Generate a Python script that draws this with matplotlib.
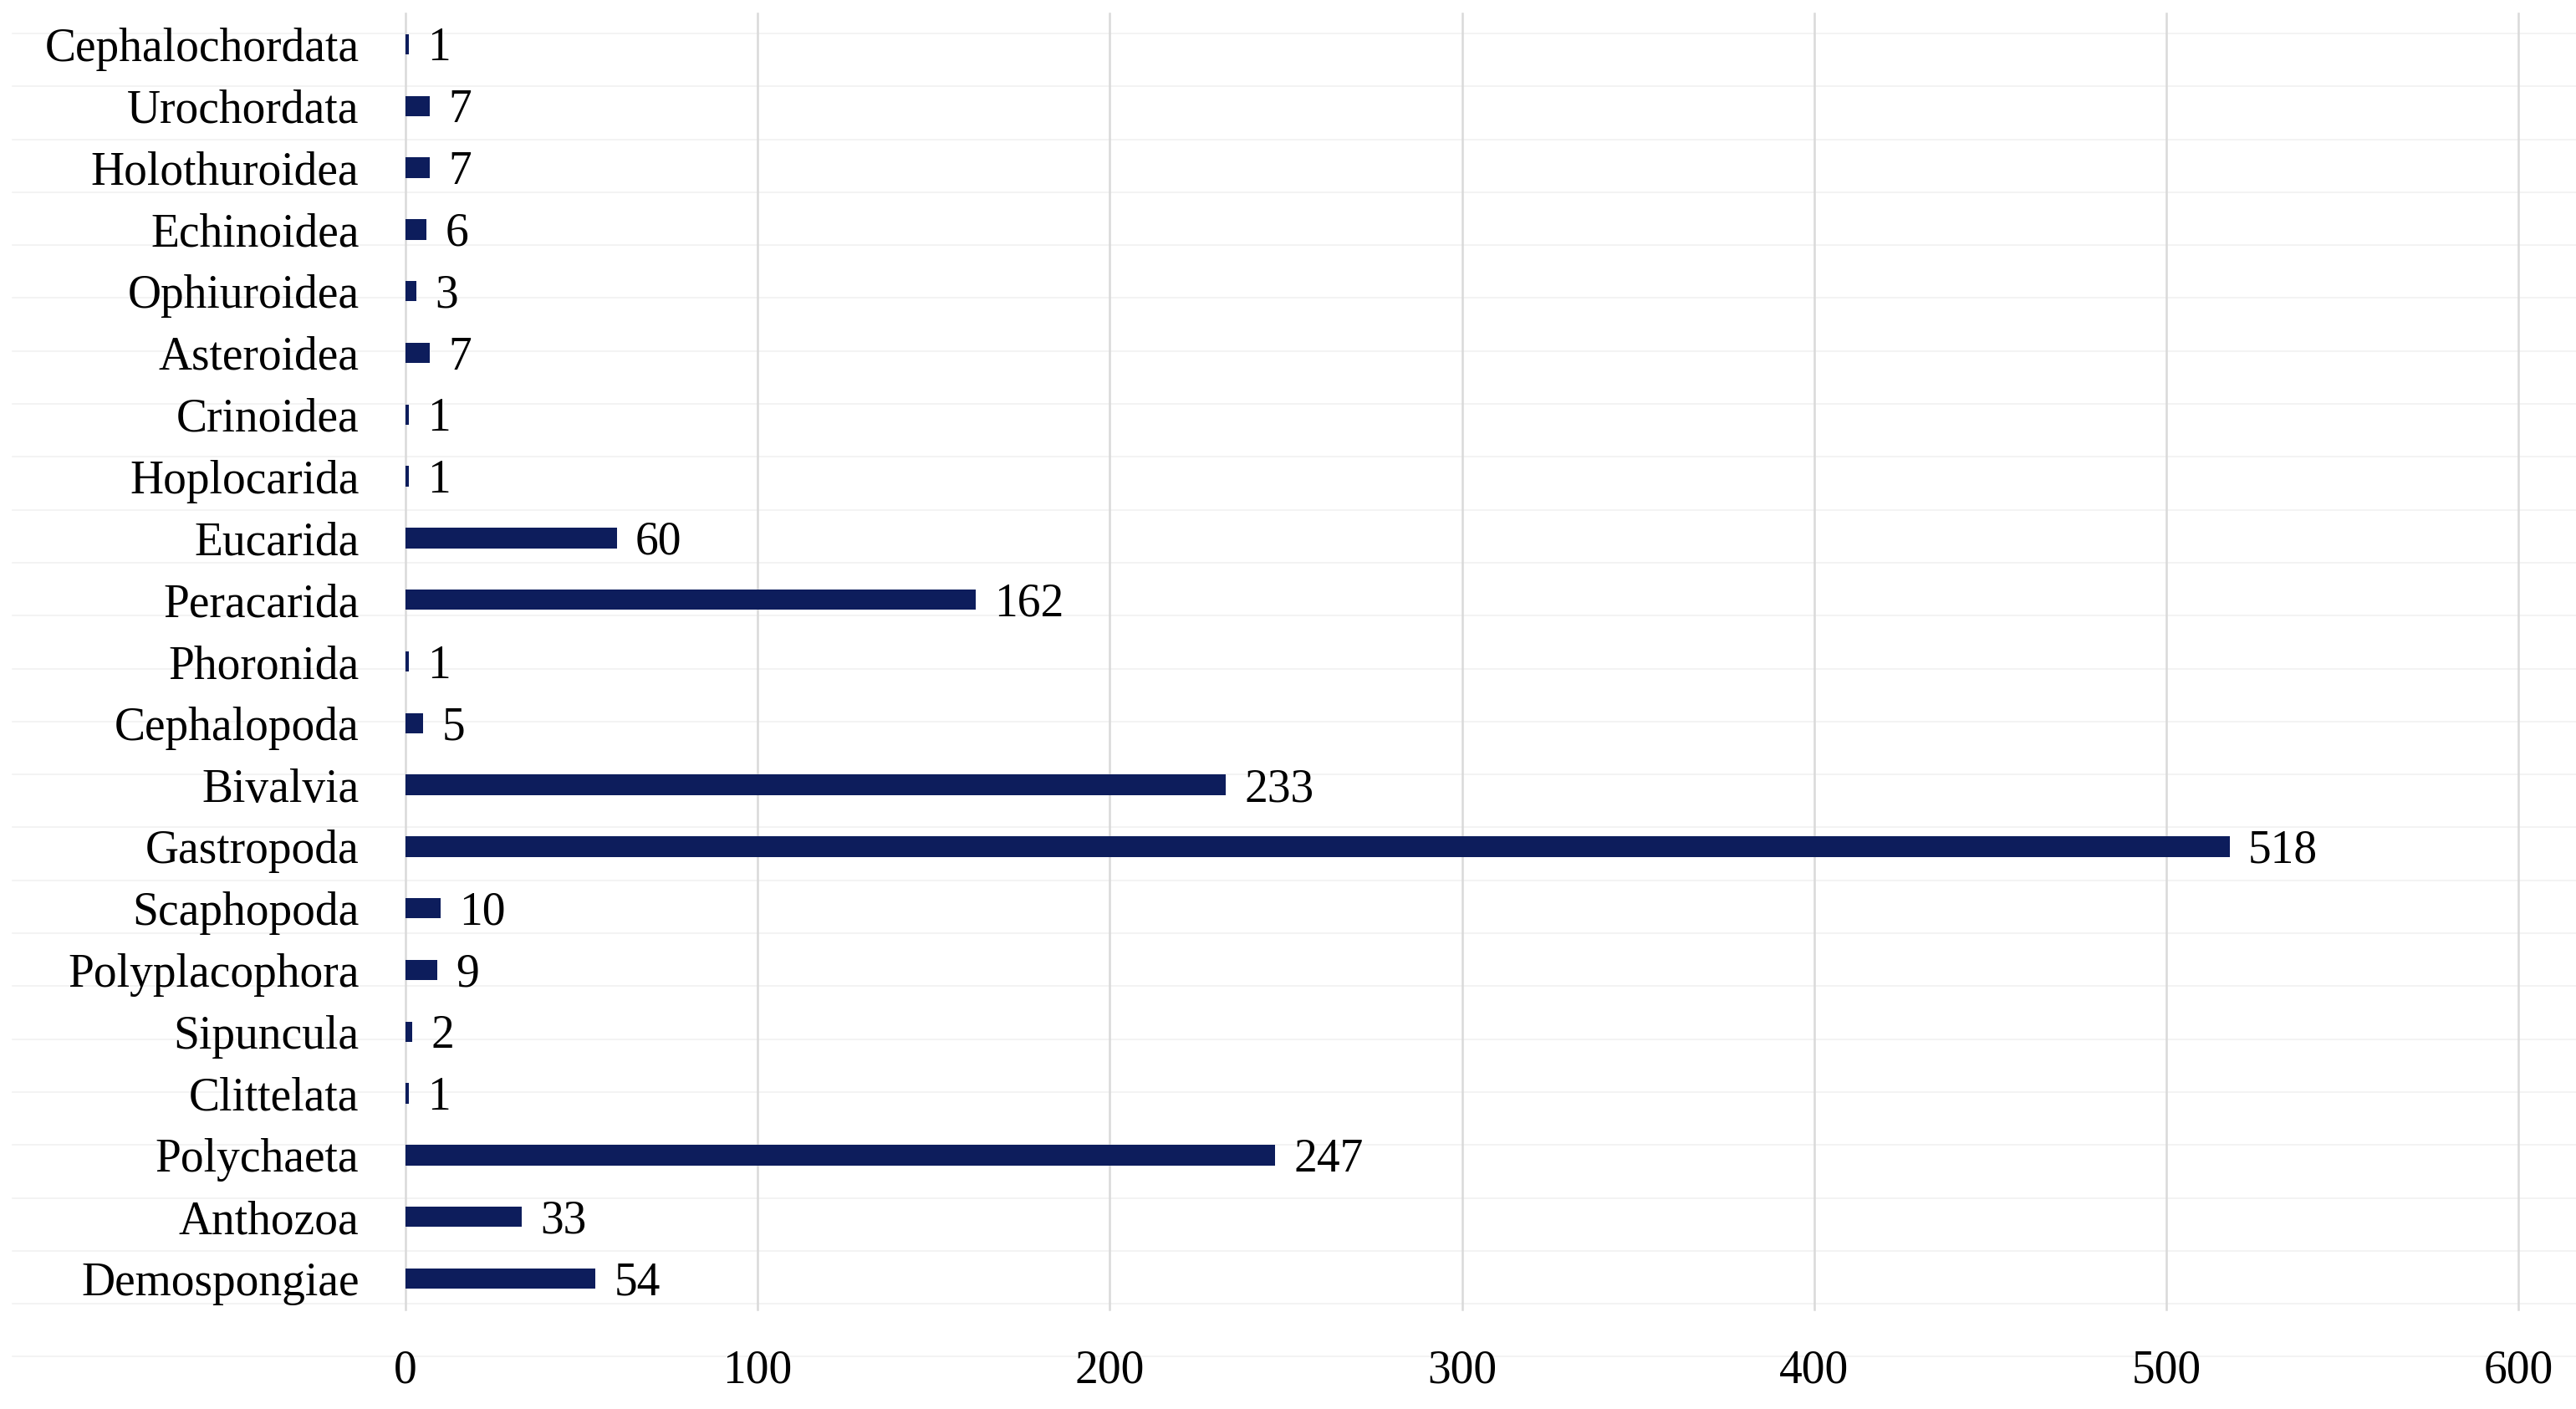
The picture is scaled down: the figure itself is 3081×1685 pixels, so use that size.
"""
Class-level species counts, horizontal bar chart.
"""

import matplotlib
matplotlib.use("Agg")
import matplotlib.pyplot as plt
from matplotlib.lines import Line2D

# data (bottom -> top, as drawn)
CLASSES = [
    "Demospongiae", "Anthozoa", "Polychaeta", "Clittelata", "Sipuncula",
    "Polyplacophora", "Scaphopoda", "Gastropoda", "Bivalvia", "Cephalopoda",
    "Phoronida", "Peracarida", "Eucarida", "Hoplocarida", "Crinoidea",
    "Asteroidea", "Ophiuroidea", "Echinoidea", "Holothuroidea",
    "Urochordata", "Cephalochordata",
]
COUNTS = [54, 33, 247, 1, 2, 9, 10, 518, 233, 5, 1, 162, 60, 1, 1, 7, 3, 6, 7, 7, 1]
X_TICKS = [0, 100, 200, 300, 400, 500, 600]

COLOR_BAR = "#0d1d5c"
COLOR_GRID = "#d9d9d9"
COLOR_FAINT = "#f1f1f1"
FONT = "Liberation Serif"
FS = 40


def main() -> None:
    plt.rcParams["font.family"] = [FONT, "DejaVu Serif"]

    W, H = 3081, 1685
    fig = plt.figure(figsize=(W / 100, H / 100), dpi=100, facecolor="white")

    # faint scan lines across the page
    y_px = 40.0
    while y_px < H:
        fig.add_artist(Line2D([15 / W, 1], [1 - y_px / H] * 2, transform=fig.transFigure,
                              color=COLOR_FAINT, linewidth=1.2, zorder=0))
        y_px += 63.3

    ax = fig.add_axes([485 / W, 1 - 1566 / H, (3012 - 485) / W, (1566 - 16) / H])
    ax.set_facecolor("none")

    y = list(range(len(CLASSES)))
    ax.barh(y, COUNTS, height=0.33, color=COLOR_BAR, zorder=3)

    for yi, v in zip(y, COUNTS):
        ax.annotate(str(v), (v, yi), xytext=(16, -4), textcoords="offset points",
                    ha="left", va="center", fontsize=FS, color="black", zorder=4)

    ax.set_xlim(0, 600)
    ax.set_ylim(-0.5, len(CLASSES) - 0.5)
    ax.set_xticks(X_TICKS)
    ax.set_xticklabels([str(t) for t in X_TICKS])
    ax.set_yticks(y)
    ax.set_yticklabels(CLASSES)

    # vertical gridlines drawn unclipped so the 0 and 600 lines show fully
    for t in X_TICKS:
        ax.axvline(t, color=COLOR_GRID, linewidth=1.8, zorder=0, clip_on=False)
    for s in ax.spines.values():
        s.set_visible(False)

    ax.tick_params(axis="x", length=0, pad=34, labelsize=FS, labelcolor="black")
    ax.tick_params(axis="y", length=0, pad=40, labelsize=FS, labelcolor="black")

    fig.savefig("out.png", dpi=100, facecolor="white")


if __name__ == "__main__":
    main()
